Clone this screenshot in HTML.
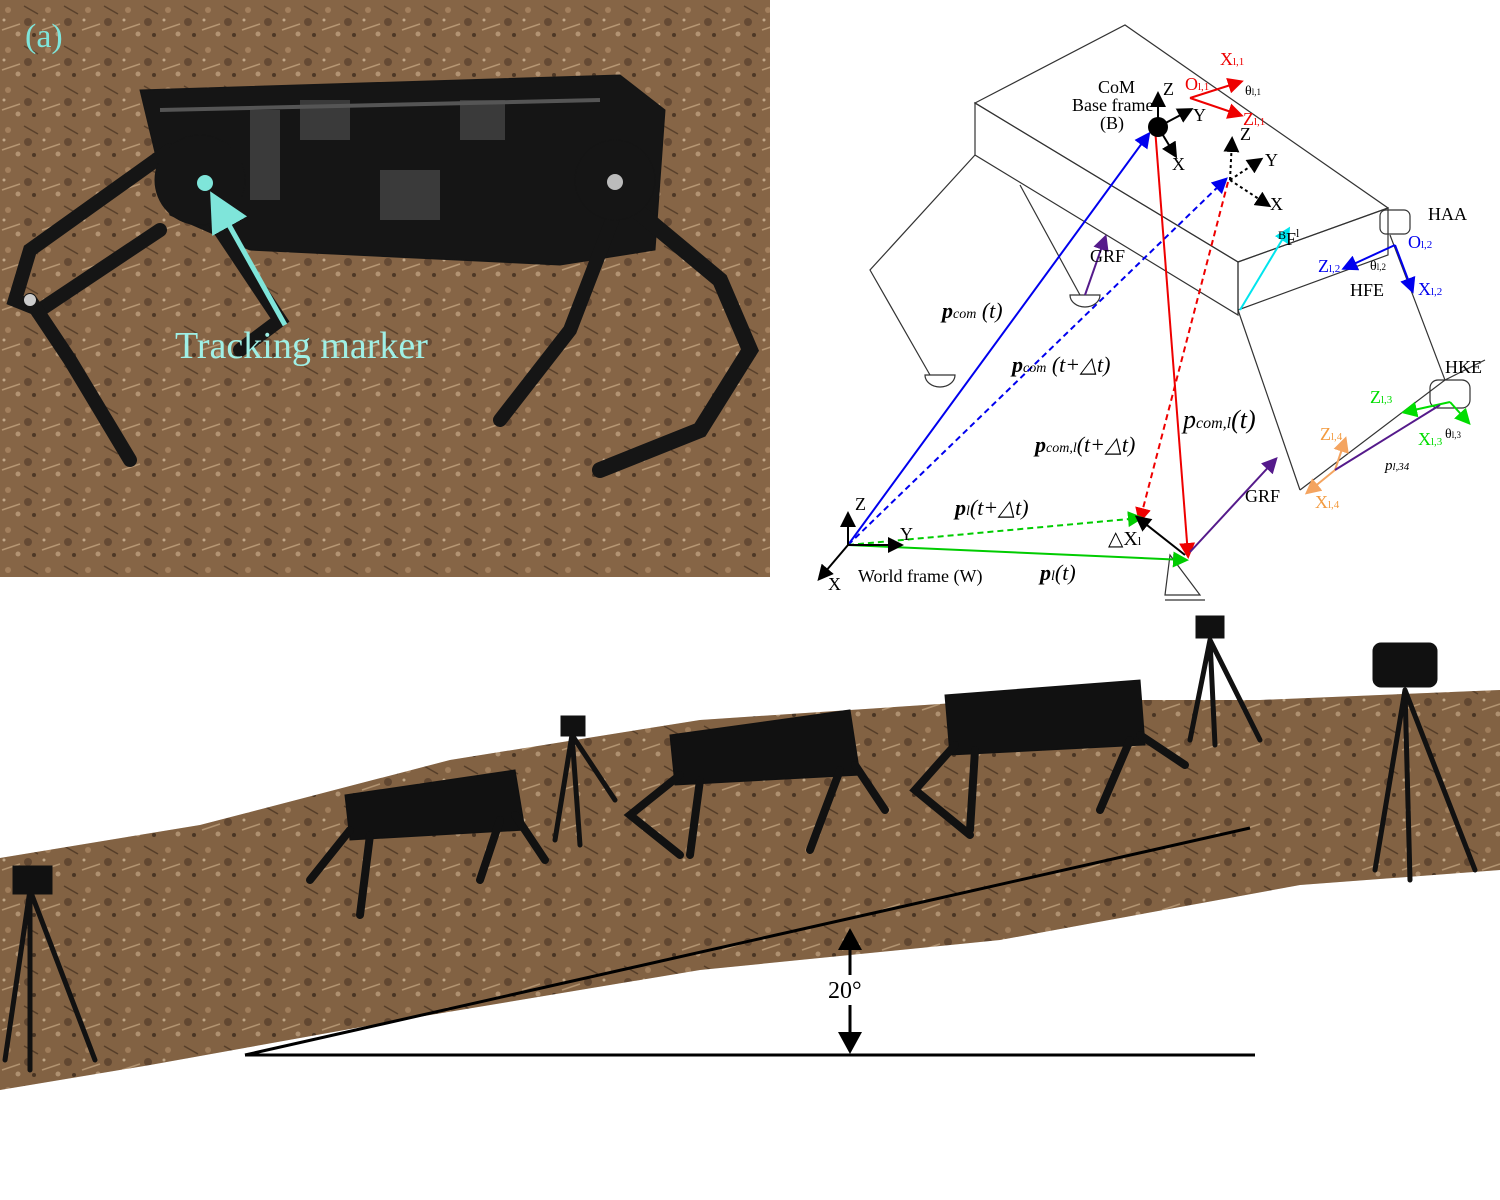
<!DOCTYPE html>
<html><head><meta charset="utf-8"><style>
html,body{margin:0;padding:0;background:#fff;}
svg{display:block;font-family:"Liberation Serif",serif;}
</style></head><body>
<svg width="1500" height="1200" viewBox="0 0 1500 1200">
<defs>
<pattern id="dirt" width="40" height="40" patternUnits="userSpaceOnUse">
<rect width="40" height="40" fill="#8a6848"/>
<circle cx="8" cy="10" r="3" fill="#b08c68"/><circle cx="28" cy="22" r="4" fill="#5e4430"/>
<circle cx="18" cy="34" r="2.5" fill="#c4a684"/><path d="M2 30 L20 24" stroke="#c9aa84" stroke-width="1.5"/>
<path d="M24 6 L38 14" stroke="#4e3826" stroke-width="1.5"/><circle cx="34" cy="35" r="2" fill="#3e2c1e"/>
<circle cx="4" cy="20" r="1.5" fill="#d8c0a0"/>
</pattern>
<marker id="ab" markerWidth="8" markerHeight="8" refX="6" refY="4" orient="auto"><path d="M0,0 L8,4 L0,8 z" fill="context-stroke"/></marker>
</defs>

<g>
<rect x="0" y="0" width="770" height="577" fill="url(#dirt)"/>
<rect x="0" y="0" width="770" height="577" fill="#7a5c40" opacity="0.25"/>
<g fill="#151515" stroke="#151515">
<path d="M140 90 L620 75 L665 110 L655 250 L560 265 L250 250 L170 215 Z"/>
<path d="M170 150 L30 250 L15 300 L40 310 L160 230" stroke-width="14" fill="none" stroke-linecap="round"/>
<path d="M30 300 L70 360 L130 460" stroke-width="14" fill="none" stroke-linecap="round"/>
<path d="M200 200 L280 320 L240 350" stroke-width="14" fill="none" stroke-linecap="round"/>
<path d="M600 180 L720 280 L750 350 L700 430 L600 470" stroke-width="16" fill="none" stroke-linecap="round"/>
<path d="M620 200 L570 330 L500 420" stroke-width="14" fill="none" stroke-linecap="round"/>
<circle cx="200" cy="180" r="45"/><circle cx="615" cy="180" r="40"/>
</g>
<g fill="#3a3a3a">
<rect x="300" y="100" width="50" height="40"/><rect x="460" y="100" width="45" height="40"/>
<rect x="380" y="170" width="60" height="50"/><rect x="250" y="110" width="30" height="90"/>
<circle cx="615" cy="182" r="8" fill="#bbb"/><circle cx="30" cy="300" r="6" fill="#ccc"/>
<path d="M160 110 L600 100" stroke="#555" stroke-width="4" fill="none"/>
</g>
<circle cx="205" cy="183" r="8" fill="#7fe5da"/>
<path d="M285 325 L215 200" stroke="#7fe5da" stroke-width="5" marker-end="url(#ab)"/>
<text x="25" y="47" font-size="34" fill="#7fe5da">(a)</text>
<text x="175" y="358" font-size="38" fill="#9ff0e6">Tracking marker</text>
</g>

<g fill="none" stroke="#333" stroke-width="1.2">
<polygon points="975,103 1125,25 1388,208 1238,262"/>
<polygon points="975,103 975,155 1238,315 1238,262"/>
<polygon points="1238,262 1388,208 1388,255 1238,310"/>
<path d="M975 155 L870 270 L930 375"/><path d="M1020 185 L1080 295"/>
<path d="M1238 310 L1300 490"/><path d="M1390 235 L1445 380 L1300 490"/>
<path d="M1445 380 L1485 360"/>
<rect x="1380" y="210" width="30" height="24" rx="6"/><rect x="1430" y="380" width="40" height="28" rx="8"/>
<path d="M925 375 a15 12 0 0 0 30 0 z"/><path d="M1070 295 a15 12 0 0 0 30 0 z"/>
<path d="M1170 555 L1200 595 L1165 595 Z"/><path d="M1165 600 L1205 600"/>
</g>
<g stroke-width="2" fill="none">
<path d="M848 545 L1148 135" stroke="#0000ee" marker-end="url(#ab)"/>
<path d="M848 545 L1225 180" stroke="#0000ee" stroke-dasharray="6,4" marker-end="url(#ab)"/>
<path d="M1155 128 L1188 555" stroke="#ee0000" marker-end="url(#ab)"/>
<path d="M1228 182 L1140 520" stroke="#ee0000" stroke-dasharray="6,4" marker-end="url(#ab)"/>
<path d="M848 545 L1185 560" stroke="#00cc00" marker-end="url(#ab)"/>
<path d="M848 545 L1140 518" stroke="#00cc00" stroke-dasharray="6,4" marker-end="url(#ab)"/>
<path d="M1185 555 L1138 518" stroke="#000" marker-end="url(#ab)"/>
<path d="M1190 552 L1275 460" stroke="#551a8b" marker-end="url(#ab)"/>
<path d="M1085 295 L1105 238" stroke="#551a8b" marker-end="url(#ab)"/>
<path d="M1240 310 L1288 230" stroke="#00e5ee" marker-end="url(#ab)"/>
<path d="M848 545 L848 515" stroke="#000" marker-end="url(#ab)"/>
<path d="M848 545 L900 545" stroke="#000" marker-end="url(#ab)"/>
<path d="M848 545 L820 578" stroke="#000" marker-end="url(#ab)"/>
<path d="M1158 127 L1158 95" stroke="#000" marker-end="url(#ab)"/>
<path d="M1158 127 L1190 110" stroke="#000" marker-end="url(#ab)"/>
<path d="M1158 127 L1175 155" stroke="#000" marker-end="url(#ab)"/>
<path d="M1230 180 L1232 140" stroke="#000" stroke-dasharray="3,3" marker-end="url(#ab)"/>
<path d="M1230 180 L1260 160" stroke="#000" stroke-dasharray="3,3" marker-end="url(#ab)"/>
<path d="M1230 180 L1268 205" stroke="#000" stroke-dasharray="3,3" marker-end="url(#ab)"/>
<path d="M1190 98 L1240 82" stroke="#ee0000" marker-end="url(#ab)"/>
<path d="M1190 98 L1240 115" stroke="#ee0000" marker-end="url(#ab)"/>
<path d="M1395 245 L1345 268" stroke="#0000ee" marker-end="url(#ab)"/>
<path d="M1395 245 L1412 290" stroke="#0000ee" marker-end="url(#ab)"/>
<path d="M1450 402 L1405 412" stroke="#00dd00" marker-end="url(#ab)"/>
<path d="M1450 402 L1468 422" stroke="#00dd00" marker-end="url(#ab)"/>
<path d="M1335 470 L1345 440" stroke="#f4a460" marker-end="url(#ab)"/>
<path d="M1335 470 L1308 492" stroke="#f4a460" marker-end="url(#ab)"/>
<path d="M1335 470 L1440 405" stroke="#551a8b"/>
</g>
<circle cx="1158" cy="127" r="10" fill="#000"/>
<g font-size="18" fill="#000">
<text x="1098" y="93">CoM</text><text x="1072" y="111">Base frame</text><text x="1100" y="129">(B)</text>
<text x="1163" y="95">Z</text><text x="1193" y="121">Y</text><text x="1172" y="170">X</text>
<text x="1240" y="140">Z</text><text x="1265" y="166">Y</text><text x="1270" y="210">X</text>
<text x="1428" y="220">HAA</text><text x="1350" y="296">HFE</text><text x="1445" y="373">HKE</text>
<text x="1090" y="262">GRF</text><text x="1245" y="502">GRF</text>
<text x="1278" y="245"><tspan font-size="12" dy="-6">B</tspan><tspan dy="6">F</tspan><tspan font-size="12" dy="-8">l</tspan></text>
<text x="855" y="510">Z</text><text x="900" y="540">Y</text><text x="828" y="590">X</text>
<text x="858" y="582">World frame (W)</text>
<text x="1108" y="545" font-size="20">△X<tspan font-size="12">l</tspan></text>
<text x="942" y="318" font-size="22" font-weight="bold" font-style="italic">p<tspan font-size="14" font-weight="normal">com</tspan><tspan font-weight="normal"> (t)</tspan></text>
<text x="1012" y="372" font-size="22" font-weight="bold" font-style="italic">p<tspan font-size="14" font-weight="normal">com</tspan><tspan font-weight="normal"> (t+△t)</tspan></text>
<text x="1035" y="452" font-size="22" font-weight="bold" font-style="italic">p<tspan font-size="14" font-weight="normal">com,l</tspan><tspan font-weight="normal">(t+△t)</tspan></text>
<text x="1183" y="428" font-size="26" font-style="italic">p<tspan font-size="16">com,l</tspan>(t)</text>
<text x="955" y="515" font-size="22" font-weight="bold" font-style="italic">p<tspan font-size="14" font-weight="normal">l</tspan><tspan font-weight="normal">(t+△t)</tspan></text>
<text x="1040" y="580" font-size="22" font-weight="bold" font-style="italic">p<tspan font-size="14" font-weight="normal">l</tspan><tspan font-weight="normal">(t)</tspan></text>
<text x="1385" y="470" font-size="15" font-style="italic">p<tspan font-size="11">l,34</tspan></text>
<text x="1245" y="95" font-size="14">θ<tspan font-size="9">l,1</tspan></text>
<text x="1370" y="270" font-size="14">θ<tspan font-size="9">l,2</tspan></text>
<text x="1445" y="438" font-size="14">θ<tspan font-size="9">l,3</tspan></text>
<text x="1185" y="90" fill="#e00">O<tspan font-size="11">l,1</tspan></text>
<text x="1220" y="65" fill="#e00">X<tspan font-size="11">l,1</tspan></text>
<text x="1243" y="125" fill="#e00">Z<tspan font-size="11">l,1</tspan></text>
<text x="1408" y="248" fill="#00e">O<tspan font-size="11">l,2</tspan></text>
<text x="1318" y="272" fill="#00e">Z<tspan font-size="11">l,2</tspan></text>
<text x="1418" y="295" fill="#00e">X<tspan font-size="11">l,2</tspan></text>
<text x="1370" y="403" fill="#0d0">Z<tspan font-size="11">l,3</tspan></text>
<text x="1418" y="445" fill="#0d0">X<tspan font-size="11">l,3</tspan></text>
<text x="1320" y="440" fill="#f39b40">Z<tspan font-size="11">l,4</tspan></text>
<text x="1315" y="508" fill="#f39b40">X<tspan font-size="11">l,4</tspan></text>
</g>

<g>
<path d="M0 858 L200 825 L450 760 L700 720 L1000 700 L1260 700 L1500 690 L1500 870 L1300 885 L1000 940 L700 970 L400 1020 L150 1065 L0 1090 Z" fill="url(#dirt)"/>
<path d="M0 858 L200 825 L450 760 L700 720 L1000 700 L1260 700 L1500 690 L1500 870 L1300 885 L1000 940 L700 970 L400 1020 L150 1065 L0 1090 Z" fill="#6b4e33" opacity="0.25"/>
<g fill="#111" stroke="#111" stroke-linecap="round">
<g><path d="M345 795 L515 770 L525 830 L350 840 Z"/><path d="M350 830 L310 880 M370 835 L360 915 M500 820 L480 880 M515 815 L545 860" stroke-width="8" fill="none"/></g>
<g><path d="M670 735 L850 710 L860 775 L675 785 Z"/><path d="M680 775 L630 815 L680 855 M700 780 L690 855 M840 770 L810 850 M855 765 L885 810" stroke-width="8" fill="none"/></g>
<g><path d="M945 695 L1140 680 L1145 745 L950 755 Z"/><path d="M955 745 L915 790 L970 835 M975 750 L970 830 M1130 740 L1100 810 M1140 735 L1185 765" stroke-width="8" fill="none"/></g>
<g stroke-width="5" fill="none">
<path d="M30 890 L5 1060 M30 890 L30 1070 M30 890 L95 1060"/><rect x="15" y="868" width="35" height="24" fill="#111"/>
<path d="M572 735 L555 840 M572 735 L580 845 M572 735 L615 800"/><rect x="563" y="718" width="20" height="16" fill="#111"/>
<path d="M1210 640 L1190 740 M1210 640 L1215 745 M1210 640 L1260 740"/><rect x="1198" y="618" width="24" height="18" fill="#111"/>
<path d="M1405 690 L1375 870 M1405 690 L1410 880 M1405 690 L1475 870"/><rect x="1375" y="645" width="60" height="40" rx="6" fill="#111"/>
</g>
</g>
</g>
<g>
<path d="M245 1055 L1250 828" stroke="#000" stroke-width="3"/>
<path d="M245 1055 L1255 1055" stroke="#000" stroke-width="3"/>
<path d="M850 975 L850 940" stroke="#000" stroke-width="3"/><path d="M838 950 L850 928 L862 950 Z" fill="#000"/>
<path d="M850 1005 L850 1040" stroke="#000" stroke-width="3"/><path d="M838 1032 L850 1054 L862 1032 Z" fill="#000"/>
<text x="828" y="998" font-size="24" fill="#000">20°</text>
</g>
</svg>
</body></html>
